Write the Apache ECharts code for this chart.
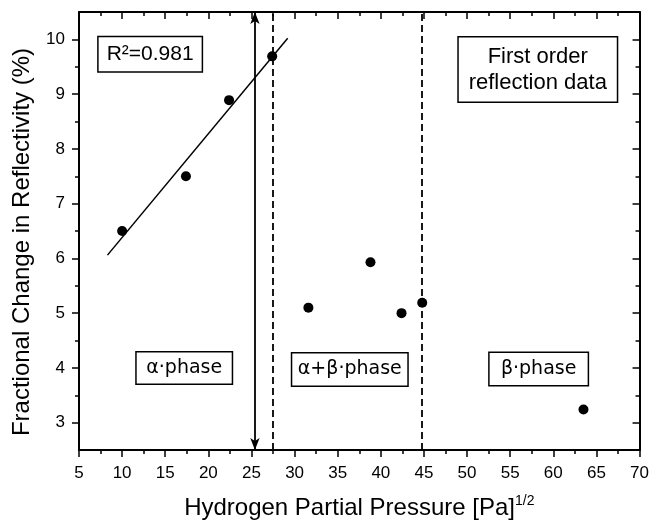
<!DOCTYPE html>
<html>
<head>
<meta charset="utf-8">
<script src="https://cdn.jsdelivr.net/npm/echarts@6/dist/echarts.min.js"></script>
<style>
  html, body { margin: 0; padding: 0; background: #fff; }
  #chart { width: 652px; height: 527px; }
</style>
</head>
<body>
<div id="chart"></div>
<script>
// Reflectivity change vs. square root of hydrogen partial pressure
const alphaPhasePoints = [[10.0, 6.5], [17.4, 7.5], [22.4, 8.89], [27.4, 9.69]];
const otherPoints = [[31.6, 5.1], [38.8, 5.93], [42.4, 5.0], [44.8, 5.19], [63.5, 3.24]];
const fitRange = [8.3, 29.2];
const phaseBoundaries = [27.5, 44.7];
const arrowX = 25.4;
const yMajorTicks = [3, 4, 5, 6, 7, 8, 9, 10];
const yMinorTicks = [3.5, 4.5, 5.5, 6.5, 7.5, 8.5, 9.5];
const rSquaredText = 'R²=0.981';
const phaseNames = ['α·phase', 'α+β·phase', 'β·phase'];
const noteText = 'First order\nreflection data';

// least-squares line through the alpha-phase points
function linearFit(pts) {
  const n = pts.length;
  let sx = 0, sy = 0;
  pts.forEach(p => { sx += p[0]; sy += p[1]; });
  const mx = sx / n, my = sy / n;
  let sxx = 0, sxy = 0;
  pts.forEach(p => { sxx += (p[0] - mx) ** 2; sxy += (p[0] - mx) * (p[1] - my); });
  const slope = sxy / sxx;
  return { slope, intercept: my - slope * mx };
}
const fit = linearFit(alphaPhasePoints);
const fitLine = fitRange.map(x => [x, fit.intercept + fit.slope * x]);

const FONT = 'Liberation Sans, Arial, sans-serif';
const PHASE_FONT = 'DejaVu Sans, sans-serif';
const X_MIN = 5, X_MAX = 70, Y_MIN = 2.5, Y_MAX = 10.5;
const black = '#000';

function boxLabel(text, fontSize, fontFamily, width, height, lineHeight) {
  return {
    show: true,
    position: 'inside',
    formatter: text,
    color: black,
    opacity: 1,
    fontSize: fontSize,
    fontFamily: fontFamily,
    lineHeight: lineHeight,
    align: 'center',
    verticalAlign: 'middle',
    width: width,
    height: height,
    padding: [4, 6],
    backgroundColor: '#fff',
    borderColor: black,
    borderWidth: 1.5
  };
}

// annotation anchors (data coordinates) and their boxes
const annotations = [
  { value: [13.25, 9.73], label: boxLabel(rSquaredText, 21, FONT, 91, 26, 24) },
  { value: [58.2, 9.45], label: boxLabel(noteText, 22, FONT, 146, 56, 26) },
  { value: [17.2, 4.0], label: boxLabel(phaseNames[0], 19, PHASE_FONT, 83, 23, 22) },
  { value: [36.4, 3.97], label: boxLabel(phaseNames[1], 19, PHASE_FONT, 103, 24, 22) },
  { value: [58.3, 3.98], label: boxLabel(phaseNames[2], 19, PHASE_FONT, 86, 24, 22) }
];

const chart = echarts.init(document.getElementById('chart'), null, { renderer: 'canvas' });

chart.setOption({
  backgroundColor: '#fff',
  animation: false,
  grid: { left: 79, right: 9, top: 12, bottom: 76, containLabel: false },
  xAxis: [
    {
      type: 'value', min: X_MIN, max: X_MAX, interval: 5, position: 'bottom',
      name: 'Hydrogen Partial Pressure [Pa]{sup|1/2}',
      nameLocation: 'middle', nameGap: 44,
      nameTextStyle: {
        color: black, fontSize: 24, fontFamily: FONT, lineHeight: 28,
        rich: { sup: { fontSize: 14, fontFamily: FONT, lineHeight: 14, verticalAlign: 'top', color: black } }
      },
      axisLine: { show: true, onZero: false, lineStyle: { color: black, width: 2 } },
      axisTick: { show: true, inside: false, length: 7, lineStyle: { color: black, width: 1.5 } },
      minorTick: { show: true, splitNumber: 2, length: 4, lineStyle: { color: black, width: 1.5 } },
      axisLabel: { color: black, fontSize: 17, fontFamily: FONT, margin: 15 },
      splitLine: { show: false }
    },
    {
      type: 'value', min: X_MIN, max: X_MAX, interval: 5, position: 'top',
      axisLine: { show: true, onZero: false, lineStyle: { color: black, width: 2 } },
      axisTick: { show: true, inside: true, length: 7, lineStyle: { color: black, width: 1.5 } },
      minorTick: { show: true, splitNumber: 2, length: 4, lineStyle: { color: black, width: 1.5 } },
      axisLabel: { show: false },
      splitLine: { show: false }
    }
  ],
  yAxis: [
    {
      type: 'value', min: Y_MIN, max: Y_MAX, position: 'left',
      name: 'Fractional Change in Reflectivity (%)',
      nameLocation: 'middle', nameGap: 45,
      nameTextStyle: { color: black, fontSize: 24, fontFamily: FONT, padding: [0, 22, 0, 0] },
      axisLine: { show: true, onZero: false, lineStyle: { color: black, width: 2 } },
      axisTick: { show: true, inside: false, length: 7, customValues: yMajorTicks, lineStyle: { color: black, width: 1.5 } },
      axisLabel: { color: black, fontSize: 17, fontFamily: FONT, margin: 14, customValues: yMajorTicks },
      splitLine: { show: false }
    },
    {
      type: 'value', min: Y_MIN, max: Y_MAX, position: 'left',
      axisLine: { show: false },
      axisTick: { show: true, inside: false, length: 4, customValues: yMinorTicks, lineStyle: { color: black, width: 1.5 } },
      axisLabel: { show: false },
      splitLine: { show: false }
    },
    {
      type: 'value', min: Y_MIN, max: Y_MAX, position: 'right',
      axisLine: { show: true, onZero: false, lineStyle: { color: black, width: 2 } },
      axisTick: { show: true, inside: true, length: 7, customValues: yMajorTicks, lineStyle: { color: black, width: 1.5 } },
      axisLabel: { show: false },
      splitLine: { show: false }
    },
    {
      type: 'value', min: Y_MIN, max: Y_MAX, position: 'right',
      axisLine: { show: false },
      axisTick: { show: true, inside: true, length: 4, customValues: yMinorTicks, lineStyle: { color: black, width: 1.5 } },
      axisLabel: { show: false },
      splitLine: { show: false }
    }
  ],
  series: [
    {
      name: 'fit',
      type: 'line',
      data: fitLine,
      symbol: 'none',
      lineStyle: { color: black, width: 1.5 },
      silent: true,
      z: 3
    },
    {
      name: 'boundaries',
      type: 'line',
      data: [],
      silent: true,
      markLine: {
        silent: true,
        animation: false,
        label: { show: false },
        symbol: ['none', 'none'],
        lineStyle: { color: black, width: 1.8, type: 'solid', opacity: 1 },
        data: [
          { xAxis: phaseBoundaries[0], symbol: 'none', lineStyle: { type: [7, 4], color: black, width: 1.8 } },
          { xAxis: phaseBoundaries[1], symbol: 'none', lineStyle: { type: [7, 4], color: black, width: 1.8 } },
          [
            { coord: [arrowX, Y_MAX], symbol: 'arrow', symbolSize: [7, 12] },
            { coord: [arrowX, Y_MIN], symbol: 'arrow', symbolSize: [7, 12], lineStyle: { type: 'solid', color: black, width: 1.8 } }
          ]
        ]
      },
      z: 2
    },
    {
      name: 'alpha',
      type: 'scatter',
      data: alphaPhasePoints,
      symbol: 'circle',
      symbolSize: 10,
      itemStyle: { color: black, opacity: 1 },
      emphasis: { disabled: true },
      z: 5
    },
    {
      name: 'mixed',
      type: 'scatter',
      data: otherPoints,
      symbol: 'circle',
      symbolSize: 10,
      itemStyle: { color: black, opacity: 1 },
      emphasis: { disabled: true },
      z: 5
    },
    {
      name: 'annotations',
      type: 'scatter',
      data: annotations,
      symbolSize: 0,
      itemStyle: { opacity: 1 },
      emphasis: { disabled: true },
      silent: true,
      z: 6
    }
  ]
});
</script>
</body>
</html>
